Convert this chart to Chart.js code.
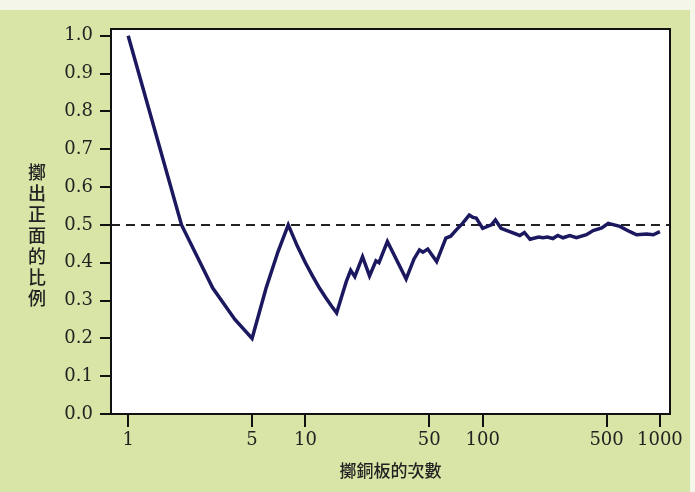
<!DOCTYPE html>
<html>
<head>
<meta charset="utf-8">
<script src="https://cdn.jsdelivr.net/npm/chart.js@4"></script>
<style>
  html, body { margin: 0; padding: 0; background: #f4f6ea; }
  #wrap { width: 695px; height: 492px; }
</style>
</head>
<body>
<div id="wrap"><canvas id="plot" width="695" height="492"></canvas></div>
<script>
// number of tosses and running share of heads
const tosses = [1, 2, 3, 4, 5, 6, 7, 8, 9, 10, 11, 12, 13, 14, 15,
    16, 17, 18, 19, 21, 23, 25, 26, 29, 37, 41, 44, 46, 49, 55, 62, 66, 71, 77, 84, 88, 92,
    100, 112, 118, 127, 142, 162, 172, 185, 207, 219, 232, 249, 265, 284, 310, 338, 385, 420, 470, 511, 594, 677, 739, 841, 917, 1000];
const headShare = [1.0, 0.5, 0.333, 0.25, 0.2, 0.333, 0.429, 0.5, 0.444, 0.4, 0.364, 0.333, 0.308, 0.286, 0.267,
    0.31, 0.35, 0.38, 0.363, 0.416, 0.365, 0.405, 0.40, 0.456, 0.357, 0.41, 0.434, 0.428, 0.436, 0.403, 0.465, 0.47, 0.487, 0.504, 0.526, 0.52, 0.518,
    0.491, 0.50, 0.513, 0.491, 0.482, 0.472, 0.48, 0.462, 0.468, 0.466, 0.468, 0.464, 0.472, 0.466, 0.472, 0.466, 0.474, 0.485, 0.492, 0.504, 0.496, 0.482, 0.474, 0.476, 0.474, 0.482];
const xTicks = [1, 5, 10, 50, 100, 500, 1000];
const yTicks = [0, 0.1, 0.2, 0.3, 0.4, 0.5, 0.6, 0.7, 0.8, 0.9, 1.0];
const fairLine = 0.5;
const xRange = [0.8, 1140];
const xTitle = '擲銅板的次數';
const yTitle = '擲出正面的比例';

const serif = '"DejaVu Serif", "Liberation Serif", serif';
const cjk = '"Noto Sans CJK TC", "Noto Sans CJK SC", sans-serif';

// green paper, white plot, black frame, upright y title
const decor = {
    id: 'decor',
    beforeDraw(chart) {
        const c = chart.ctx, a = chart.chartArea;
        c.save();
        c.fillStyle = '#d9e5a6';
        c.fillRect(0, 10, 690, 482);
        c.fillStyle = '#ffffff';
        c.fillRect(a.left, a.top, a.right - a.left, a.bottom - a.top);
        c.restore();
    },
    afterDraw(chart) {
        const c = chart.ctx, a = chart.chartArea;
        c.save();
        c.strokeStyle = '#111';
        c.lineWidth = 2;
        c.strokeRect(a.left, a.top, a.right - a.left, a.bottom - a.top);
        c.fillStyle = '#222';
        c.font = '500 18px ' + cjk;
        c.textAlign = 'center';
        c.textBaseline = 'middle';
        [...yTitle].forEach((ch, i) => c.fillText(ch, 37, 172 + i * 21));
        c.restore();
    }
};

const ctx = document.getElementById('plot');
new Chart(ctx, {
    type: 'line',
    data: {
        datasets: [{
            data: tosses.map((n, i) => ({ x: n, y: headShare[i] })),
            borderColor: '#1b1860',
            borderWidth: 3.5,
            pointRadius: 0,
            tension: 0
        }, {
            data: [{ x: xRange[0], y: fairLine }, { x: xRange[1], y: fairLine }],
            borderColor: '#222',
            borderWidth: 2,
            borderDash: [9, 6],
            pointRadius: 0
        }]
    },
    options: {
        responsive: false,
        animation: false,
        layout: { autoPadding: false, padding: { top: 29, right: 25, left: 0, bottom: 0 } },
        plugins: { legend: { display: false }, tooltip: { enabled: false } },
        scales: {
            x: {
                type: 'logarithmic',
                min: xRange[0],
                max: xRange[1],
                afterBuildTicks: axis => { axis.ticks = xTicks.map(v => ({ value: v })); },
                afterFit: axis => { axis.height = 78; },
                border: { display: false },
                grid: { drawOnChartArea: false, tickLength: 13, color: '#111', lineWidth: 2 },
                ticks: {
                    autoSkip: false, maxRotation: 0, padding: 3,
                    color: '#222', font: { family: serif, size: 18 },
                    callback: v => String(v)
                },
                title: {
                    display: true, text: xTitle, color: '#222',
                    font: { family: cjk, size: 17, weight: '500' }, padding: { top: 0, bottom: 11 }
                }
            },
            y: {
                min: 0,
                max: 1.018,
                afterBuildTicks: axis => { axis.ticks = yTicks.map(v => ({ value: v })); },
                afterFit: axis => { axis.width = 111; },
                border: { display: false },
                grid: { drawOnChartArea: false, tickLength: 11, color: '#111', lineWidth: 2 },
                ticks: {
                    padding: 7, color: '#222', font: { family: serif, size: 18 },
                    callback: v => v.toFixed(1)
                }
            }
        }
    },
    plugins: [decor]
});
</script>
</body>
</html>
